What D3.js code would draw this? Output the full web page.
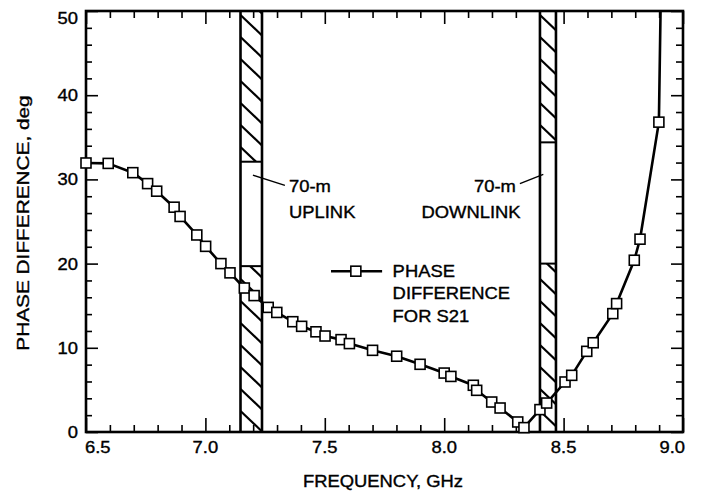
<!DOCTYPE html>
<html>
<head>
<meta charset="utf-8">
<script src="https://cdn.jsdelivr.net/npm/d3@7"></script>
<style>
  html, body { margin: 0; padding: 0; background: #fff; }
  svg { display: block; }
  text { font-family: "Liberation Sans", Arial, Helvetica, sans-serif; font-size: 16px; fill: #000;
         stroke: #000; stroke-width: 0.35px; }
</style>
</head>
<body>
<svg id="chart" width="701" height="493"></svg>
<script>
// ---------------- data ----------------
const freq = [6.500, 6.593, 6.696, 6.758, 6.796, 6.869, 6.894, 6.964, 7.001, 7.065, 7.103, 7.163, 7.204,
              7.263, 7.299, 7.366, 7.403, 7.463, 7.501, 7.568, 7.603, 7.700, 7.801, 7.899, 8.000, 8.028,
              8.122, 8.136, 8.199, 8.234, 8.308, 8.334, 8.401, 8.429, 8.506, 8.534, 8.597, 8.624, 8.706,
              8.722, 8.796, 8.820, 8.899];
const phase = [31.95, 31.9, 30.8, 29.5, 28.6, 26.7, 25.6, 23.4, 22.05, 20.0, 18.9, 17.1, 16.2,
               14.8, 14.2, 13.1, 12.55, 11.9, 11.4, 10.97, 10.5, 9.7, 9.0, 8.04, 7.0, 6.6,
               5.55, 4.95, 3.56, 2.85, 1.19, 0.52, 2.66, 3.44, 5.94, 6.73, 9.58, 10.6, 14.06,
               15.25, 20.4, 22.9, 36.8];
// curve continues (no marker) up to the top of the plot
const tailFreq = [8.906];
const tailPhase = [50];

// 70-m DSN bands
const bandNames = ["UPLINK", "DOWNLINK"];
const bandLow = [7.147, 8.401];
const bandHigh = [7.237, 8.468];
const gapBottom = [19.7, 20.0];
const gapTop = [32.1, 34.4];

const xTickLabels = ["6.5", "7.0", "7.5", "8.0", "8.5", "9.0"];
const xMajor = [6.5, 7.0, 7.5, 8.0, 8.5, 9.0];
const yTickLabels = ["0", "10", "20", "30", "40", "50"];
const yMajor = [0, 10, 20, 30, 40, 50];

const xTitle = "FREQUENCY, GHz";
const yTitle = "PHASE DIFFERENCE, deg";
const legendLines = ["PHASE", "DIFFERENCE", "FOR S21"];

// ---------------- layout ----------------
const L = 86, R = 683, T = 11, B = 432;
const SX = 1.15; // horizontal stretch of the typeface

const svg = d3.select("#chart");
const x = d3.scaleLinear().domain([6.5, 9.0]).range([L, R]);
const y = d3.scaleLinear().domain([0, 50]).range([B, T]);

const xMinor = d3.range(65, 91).map(d => d / 10).filter(v => !xMajor.some(m => Math.abs(m - v) < 1e-6));
const yMinor = d3.range(0, 51, 2).filter(v => v % 10 !== 0);

function label(px, py, str, anchor, rot, sx) {
  const g = svg.append("g").attr("transform", `translate(${px},${py})` + (rot ? ` rotate(${rot})` : ""));
  g.append("text").attr("transform", `scale(${sx || SX},1)`).attr("text-anchor", anchor || "start").text(str);
  return g;
}

// ---------------- bands ----------------
const defs = svg.append("defs");
bandLow.forEach((lo, i) => {
  const x0 = x(lo), x1 = x(bandHigh[i]);
  const cid = "clipBand" + i;
  defs.append("clipPath").attr("id", cid)
    .append("rect").attr("x", x0).attr("y", T).attr("width", x1 - x0).attr("height", B - T);
  const hg = svg.append("g").attr("clip-path", `url(#${cid})`);
  const w = x1 - x0;
  const step = 22;
  for (let yy = T - 40; yy < B + 40; yy += step) {
    hg.append("line").attr("x1", x0).attr("y1", yy).attr("x2", x1).attr("y2", yy + w * 0.95)
      .attr("stroke", "#000").attr("stroke-width", 2.2);
  }
  // white gap
  svg.append("rect").attr("x", x0).attr("y", y(gapTop[i])).attr("width", w)
    .attr("height", y(gapBottom[i]) - y(gapTop[i])).attr("fill", "#fff");
  // outlines
  [x0, x1].forEach(xx => svg.append("line").attr("x1", xx).attr("x2", xx).attr("y1", T).attr("y2", B)
    .attr("stroke", "#000").attr("stroke-width", 2.6));
  [gapTop[i], gapBottom[i]].forEach(v => svg.append("line").attr("x1", x0).attr("x2", x1)
    .attr("y1", y(v)).attr("y2", y(v)).attr("stroke", "#000").attr("stroke-width", 2));
});

// ---------------- axes (ticks inward) ----------------
function tickAxis(axis, tf, size) {
  const g = svg.append("g").attr("transform", tf).call(axis.tickSize(size).tickFormat(""));
  g.select(".domain").remove();
  g.selectAll(".tick line").attr("stroke", "#000").attr("stroke-width", 1.6);
  return g;
}
tickAxis(d3.axisBottom(x).tickValues(xMinor), `translate(0,${B})`, -7);
tickAxis(d3.axisBottom(x).tickValues(xMajor), `translate(0,${B})`, -14);
tickAxis(d3.axisTop(x).tickValues(xMinor), `translate(0,${T})`, -7);
tickAxis(d3.axisTop(x).tickValues(xMajor), `translate(0,${T})`, -13);
tickAxis(d3.axisLeft(y).tickValues(yMinor), `translate(${L},0)`, -6);
tickAxis(d3.axisLeft(y).tickValues(yMajor), `translate(${L},0)`, -12);
tickAxis(d3.axisRight(y).tickValues(yMinor), `translate(${R},0)`, -7);
tickAxis(d3.axisRight(y).tickValues(yMajor), `translate(${R},0)`, -12);

// frame
svg.append("rect").attr("x", L).attr("y", T).attr("width", R - L).attr("height", B - T)
  .attr("fill", "none").attr("stroke", "#000").attr("stroke-width", 2.6);

// tick labels
xMajor.forEach((v, i) => {
  let anchor = "middle", px = x(v);
  if (i === 0) { anchor = "start"; px = x(v) - 1; }
  if (i === xMajor.length - 1) { anchor = "end"; px = x(v) + 2; }
  label(px, B + 21, xTickLabels[i], anchor);
});
yMajor.forEach((v, i) => {
  const py = i === yMajor.length - 1 ? y(v) + 13 : y(v) + 6;
  label(L - 8, py, yTickLabels[i], "end");
});

// axis titles
label(383, 487, xTitle, "middle");
label(29, 223, yTitle, "middle", -90, 1.3);

// ---------------- data curve ----------------
const pts = freq.map((f, i) => [f, phase[i]]);
const linePts = pts.concat(tailFreq.map((f, i) => [f, tailPhase[i]]));
svg.append("path").datum(linePts)
  .attr("d", d3.line().x(d => x(d[0])).y(d => y(d[1])))
  .attr("fill", "none").attr("stroke", "#000").attr("stroke-width", 2.6).attr("stroke-linejoin", "round");
const S = 10;
svg.append("g").selectAll("rect").data(pts).join("rect")
  .attr("x", d => x(d[0]) - S / 2).attr("y", d => y(d[1]) - S / 2)
  .attr("width", S).attr("height", S)
  .attr("fill", "#fff").attr("stroke", "#000").attr("stroke-width", 1.6);

// ---------------- annotations ----------------
// uplink
svg.append("line").attr("x1", x(7.199)).attr("y1", y(30.5)).attr("x2", x(7.333)).attr("y2", y(29.3))
  .attr("stroke", "#000").attr("stroke-width", 1.4);
label(x(7.35), y(28.5), "70-m", "start");
label(x(7.35), y(25.4), bandNames[0], "start");
// downlink
svg.append("line").attr("x1", x(8.317)).attr("y1", y(29.5)).attr("x2", x(8.415)).attr("y2", y(30.6))
  .attr("stroke", "#000").attr("stroke-width", 1.4);
label(x(8.30), y(28.5), "70-m", "end");
label(x(8.32), y(25.4), bandNames[1], "end");

// legend
svg.append("line").attr("x1", x(7.526)).attr("x2", x(7.74)).attr("y1", y(19.1)).attr("y2", y(19.1))
  .attr("stroke", "#000").attr("stroke-width", 2.6);
svg.append("rect").attr("x", x(7.63) - S / 2).attr("y", y(19.1) - S / 2).attr("width", S).attr("height", S)
  .attr("fill", "#fff").attr("stroke", "#000").attr("stroke-width", 1.6);
[18.37, 15.76, 13.1].forEach((v, i) => label(x(7.784), y(v), legendLines[i], "start"));
</script>
</body>
</html>
